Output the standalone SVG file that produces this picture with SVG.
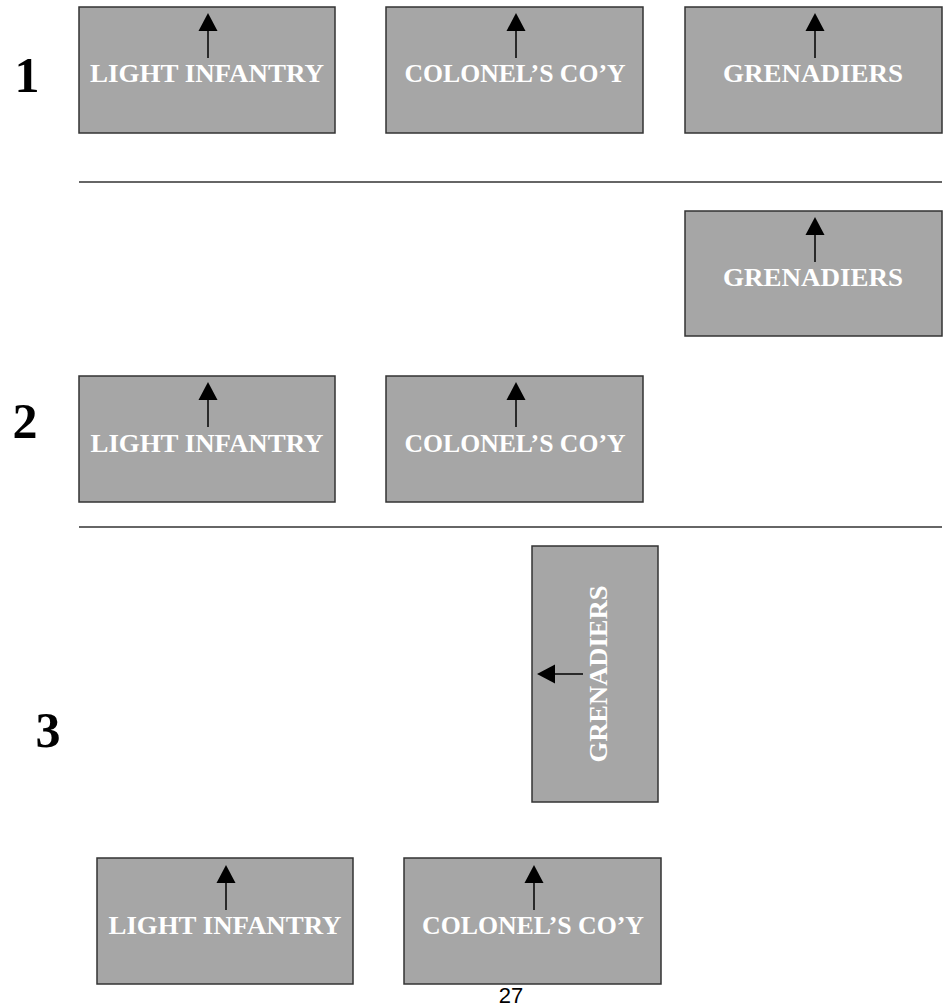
<svg xmlns="http://www.w3.org/2000/svg" width="949" height="1007" viewBox="0 0 949 1007">
<style>
.box{fill:#a6a6a6;stroke:#333;stroke-width:1.5}
.lbl{fill:#fff;font-family:"Liberation Serif","DejaVu Serif",serif;font-weight:bold;font-size:25px;text-anchor:middle}
.num{fill:#000;font-family:"Liberation Serif","DejaVu Serif",serif;font-weight:bold;font-size:50px;text-anchor:middle}
.rule{stroke:#333;stroke-width:1.5}
.arr{stroke:#000;stroke-width:1.5;fill:none;marker-end:url(#ah)}
</style>
<defs>
<marker id="ah" markerUnits="userSpaceOnUse" markerWidth="20" markerHeight="20" refX="0" refY="9.5" orient="auto" overflow="visible">
<path d="M0,0 L18,9.5 L0,19 z" fill="#000"/>
</marker>
</defs>
<rect width="949" height="1007" fill="#fff"/>
<g id="rules">
<line class="rule" x1="79" y1="182" x2="942" y2="182"/>
<line class="rule" x1="79" y1="527" x2="942" y2="527"/>
</g>
<g id="numbers">
<text class="num" x="27" y="92">1</text>
<text class="num" x="25" y="438">2</text>
<text class="num" x="48" y="747">3</text>
</g>
<g id="r1-light"><rect class="box" x="79" y="7" width="256" height="126"/><text class="lbl" x="207" y="82" textLength="234" lengthAdjust="spacingAndGlyphs">LIGHT INFANTRY</text></g>
<g id="r1-colonel"><rect class="box" x="386" y="7" width="257" height="126"/><text class="lbl" x="515" y="82" textLength="221" lengthAdjust="spacingAndGlyphs">COLONEL’S CO’Y</text></g>
<g id="r1-gren"><rect class="box" x="685" y="7" width="257" height="126"/><text class="lbl" x="813" y="82" textLength="180" lengthAdjust="spacingAndGlyphs">GRENADIERS</text></g>
<g id="r2-gren"><rect class="box" x="685" y="211" width="257" height="125"/><text class="lbl" x="813" y="286" textLength="180" lengthAdjust="spacingAndGlyphs">GRENADIERS</text></g>
<g id="r2-light"><rect class="box" x="79" y="376" width="256" height="126"/><text class="lbl" x="207" y="452" textLength="233" lengthAdjust="spacingAndGlyphs">LIGHT INFANTRY</text></g>
<g id="r2-colonel"><rect class="box" x="386" y="376" width="257" height="126"/><text class="lbl" x="515" y="452" textLength="221" lengthAdjust="spacingAndGlyphs">COLONEL’S CO’Y</text></g>
<g id="r3-gren"><rect class="box" x="532" y="546" width="126" height="256"/><text class="lbl" transform="translate(607,674) rotate(-90)" x="0" y="0" textLength="177" lengthAdjust="spacingAndGlyphs">GRENADIERS</text></g>
<g id="r3-light"><rect class="box" x="97" y="858" width="256" height="126"/><text class="lbl" x="225" y="934" textLength="233" lengthAdjust="spacingAndGlyphs">LIGHT INFANTRY</text></g>
<g id="r3-colonel"><rect class="box" x="404" y="858" width="257" height="126"/><text class="lbl" x="533" y="934" textLength="222" lengthAdjust="spacingAndGlyphs">COLONEL’S CO’Y</text></g>
<g id="connectors">
<line class="arr" x1="208" y1="58" x2="208" y2="31"/>
<line class="arr" x1="516" y1="58" x2="516" y2="31"/>
<line class="arr" x1="815" y1="58" x2="815" y2="31"/>
<line class="arr" x1="815" y1="262" x2="815" y2="235"/>
<line class="arr" x1="208" y1="427" x2="208" y2="400"/>
<line class="arr" x1="516" y1="427" x2="516" y2="400"/>
<line class="arr" x1="583" y1="674" x2="555" y2="674"/>
<line class="arr" x1="226" y1="910" x2="226" y2="883"/>
<line class="arr" x1="534" y1="910" x2="534" y2="883"/>
</g>
<text x="511" y="1003" font-family="'Liberation Sans',Arial,sans-serif" font-size="22" text-anchor="middle" fill="#000">27</text>
</svg>
